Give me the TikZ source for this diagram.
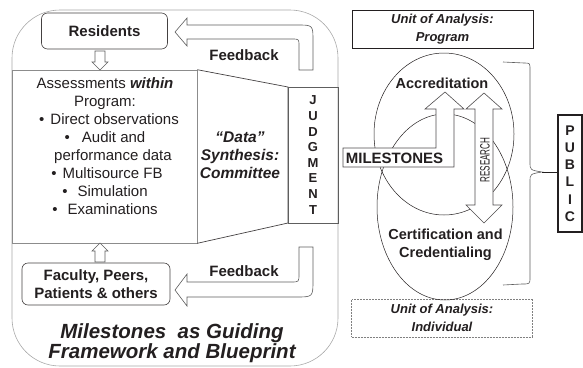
\documentclass[tikz,border=0pt]{standalone}
\usepackage{fontspec}
\setmainfont{Liberation Sans}
\usetikzlibrary{positioning,shapes.geometric}
\definecolor{txt}{HTML}{231F20}
\definecolor{framegray}{HTML}{A8A8A8}
\definecolor{arrowgray}{HTML}{5E5E5E}
\definecolor{linegray}{HTML}{8C8C8C}
\newcommand{\fsz}[2]{\fontsize{#1}{#2}\selectfont}

\begin{document}
\begin{tikzpicture}[
			x=1pt, y=-1pt,
			every node/.style={text=txt, inner sep=0pt, align=center},
			rbox/.style={draw=txt!85, rounded corners=6pt, line width=0.6pt},
			hollow/.style={draw=arrowgray, fill=white, line width=0.6pt},
			bigtext/.style={font=\bfseries\fsz{15}{17.9}},
			unitbox/.style={draw=txt, line width=0.5pt, minimum width=181pt, minimum height=38pt, font=\bfseries\itshape\fsz{13}{17.5}},
			letters/.style={font=\bfseries\fsz{13}{15.6}},
			oval/.style={draw=txt, ellipse, line width=0.5pt},
		]
		\useasboundingbox (0,0) rectangle (583,367);

		% Frame of the program
		\draw[framegray, line width=0.6pt, rounded corners=48pt] (12,10) rectangle (338,366);

		% Left column nodes
		\node[rbox, bigtext, minimum width=126pt, minimum height=36pt] (res) at (104.5,31) {Residents};
		\node[rbox, bigtext, minimum width=148pt, minimum height=42pt] (fac) at (96,284) {Faculty, Peers,\\ Patients \& others};
		\node[draw=linegray, line width=0.6pt, minimum width=185pt, minimum height=173pt] (abox) at (104.5,156.5) {};
		\node[font=\fsz{15}{17.9}] (assess) at (105,146) {Assessments \textbf{\textit{within}}\\ Program:\\
			\hspace*{8pt}\textbullet\hspace{6pt}Direct observations\\
			\textbullet\hspace{12pt}Audit and\\
			\hspace*{16pt}performance data\\
			\hspace*{4pt}\textbullet\hspace{6pt}Multisource FB\\
			\textbullet\hspace{10pt}Simulation\\
			\textbullet\hspace{10pt}Examinations};

		% Synthesis and judgment
		\draw[txt!85, line width=0.7pt] (abox.north east) -- (288,87) -- (288,223) -- (abox.south east);
		\node[font=\bfseries\itshape\fsz{15.5}{18}] (data) at (240,155.5) {“Data”\\ Synthesis:\\ Committee};
		\node[draw=arrowgray, line width=0.6pt, minimum width=50pt, minimum height=136pt, letters] (jud) at (313,155) {J\\U\\D\\G\\M\\E\\N\\T};

		% Hollow arrows
		\draw[hollow] (95,51) -- (105,51) -- (105,62) -- (108,62) -- (100,70) -- (92,62) -- (95,62) -- cycle;
		\draw[hollow] (95,262) -- (95,251) -- (92,251) -- (100,243) -- (108,251) -- (105,251) -- (105,262) -- cycle;
		\draw[hollow] (313,70) -- (313,41) .. controls (313,25) .. (297,25) -- (187,25) -- (187,18) -- (175,32)
			-- (187,46) -- (187,39) -- (292,39) .. controls (299,39) .. (299,46) -- (299,70) -- cycle;
		\draw[hollow] (299,247) -- (313,247) -- (313,280) .. controls (313,297) .. (296,297) -- (187,297) -- (187,306)
			-- (175,290) -- (187,274) -- (187,282) -- (291,282) .. controls (299,282) .. (299,274) -- cycle;
		\node[bigtext] (fb1) at (244,55) {Feedback};
		\node[bigtext] (fb2) at (244,271) {Feedback};

		% Title
		\node[font=\bfseries\itshape\fsz{20.5}{19}] (title) at (172,343) {Milestones\ \ as Guiding\\ Framework and Blueprint};

		% Right side
		\node[unitbox] (uprog) at (442.5,29) {Unit of Analysis:\\ Program};
		\node[unitbox, draw=gray, densely dotted] (uind) at (442,318) {Unit of Analysis:\\ Individual};
		\node[oval, minimum width=140pt, minimum height=162pt] (acc) at (444,134) {};
		\node[oval, minimum width=136pt, minimum height=186pt] (cert) at (445,207) {};
		\node[bigtext, font=\bfseries\fsz{14.5}{18}] (acctxt) at (442,83) {Accreditation};
		\node[bigtext, font=\bfseries\fsz{14.5}{18}] (certtxt) at (445.5,245) {Certification and\\ Credentialing};

		% Milestones arrow and research arrow
		\draw[hollow, draw=txt!80] (343,148) -- (436,148) -- (436,109) -- (425,109) -- (445,92) -- (464,109)
			-- (454,109) -- (454,167) -- (343,167) -- cycle;
		\node[font=\bfseries\fsz{15}{15}] (mile) at (394.5,158.5) {MILESTONES};
		\draw[hollow, draw=txt!80] (484,93) -- (502,109) -- (493,109) -- (493,205) -- (502,205) -- (484,223)
			-- (466,205) -- (475,205) -- (475,109) -- (466,109) -- cycle;
		\node[rotate=90, font=\fsz{13.5}{13.5}] (resrch) at (485,160) {\scalebox{0.6}[1]{RESEARCH}};

		% Brace to the public
		\node[draw=txt, line width=1.2pt, minimum width=24pt, minimum height=117pt, font=\bfseries\fsz{14}{17.2}] (pub) at (570,173.5) {P\\U\\B\\L\\I\\C};
		\coordinate (cusp) at (542,172);
		\draw[arrowgray, line width=0.6pt] (503,62) -- (524,63) .. controls (530,63) .. (530,70) -- (530,162)
			.. controls (530,170) .. (cusp) .. controls (530,174) .. (530,182) -- (530,277)
			.. controls (530,284) .. (522,284) -- (503,285);
		\draw[txt, line width=0.6pt] (cusp) -- (cusp -| pub.west);
	\end{tikzpicture}
\end{document}
